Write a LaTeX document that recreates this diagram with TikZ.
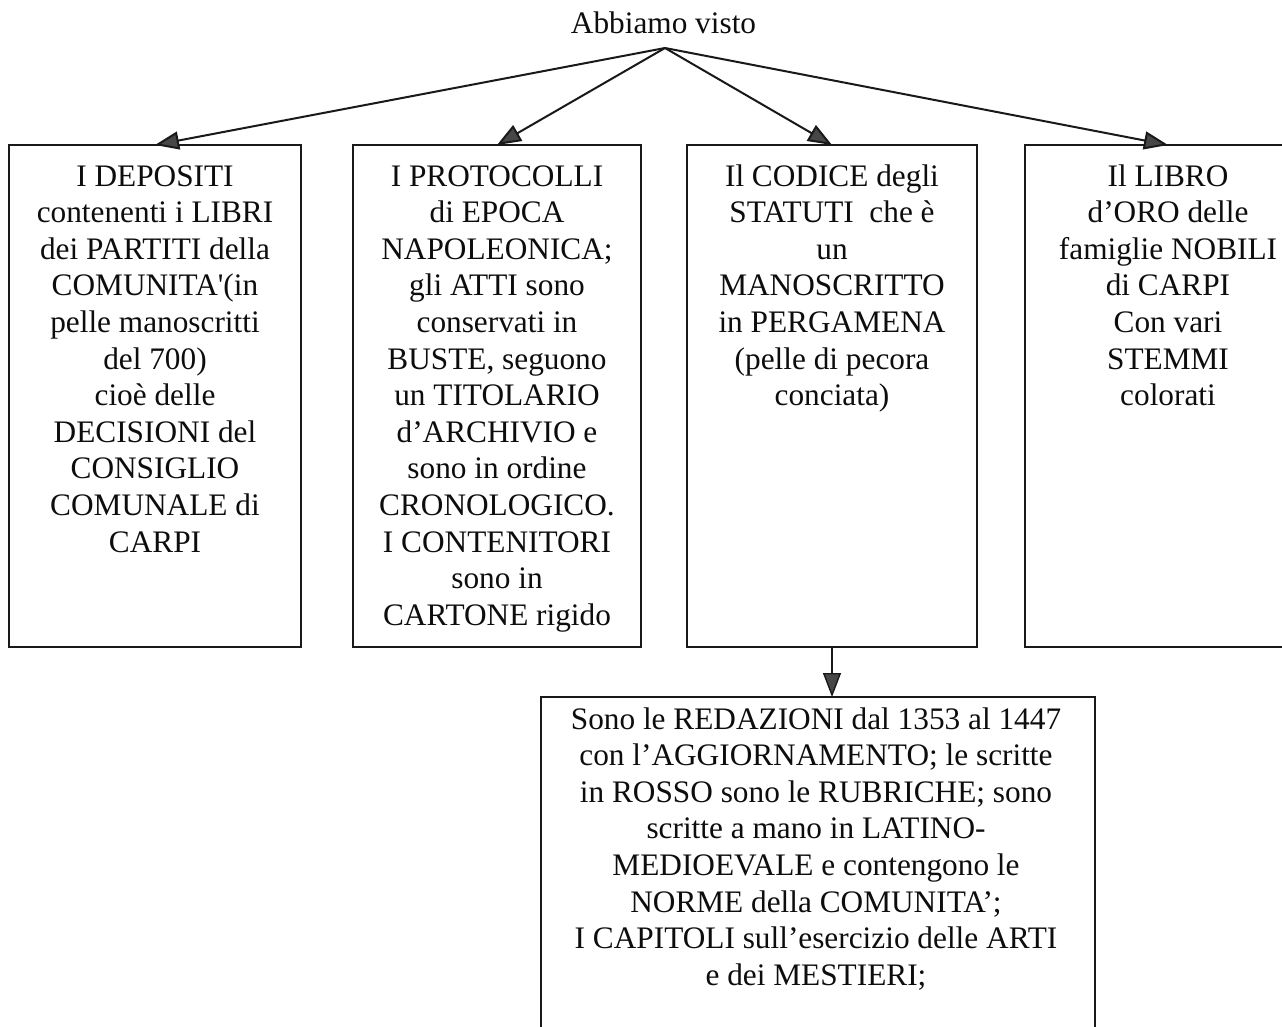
\documentclass[tikz,border=0pt]{standalone}
\usepackage{fontspec}
\setmainfont{Liberation Serif}[Ligatures=TeXOff]
\usetikzlibrary{arrows.meta}
\newcommand{\lines}[1]{\begin{tabular}[t]{@{}c@{}}#1\end{tabular}}
\begin{document}
\begin{tikzpicture}[x=1pt,y=-1pt,
  boxnode/.style={draw=black!90,line width=2pt,inner sep=0pt,outer sep=0pt,anchor=north west},
  txt/.style={inner sep=0pt,anchor=base,text=black!95,font=\fontsize{31.3}{36.6}\selectfont},
  arr/.style={draw=black!90,line width=2pt,-{Triangle[length=24pt,width=18pt,fill=black!72]}},
  arrv/.style={draw=black!90,line width=1.4pt,-{Triangle[length=24pt,width=18pt,fill=black!72]}}]
\useasboundingbox (0,0) rectangle (1282,1026);
\clip (0,0) rectangle (1282,1026);
\fill[white] (0,0) rectangle (1282,1026);
% title and apex
\node[txt] (T) at (663.5,33) {Abbiamo visto};
\coordinate (A) at (665,48);
% boxes
\node[boxnode,minimum width=292pt,minimum height=502pt] (b1) at (9,145) {};
\node[boxnode,minimum width=288pt,minimum height=502pt] (b2) at (353,145) {};
\node[boxnode,minimum width=290pt,minimum height=502pt] (b3) at (687,145) {};
\node[boxnode,minimum width=286pt,minimum height=502pt] (b4) at (1025,145) {};
\node[boxnode,minimum width=554pt,minimum height=420pt] (b5) at (541,697) {};
% texts
\node[txt] (t1) at ([yshift=-41pt]b1.north) {\lines{I DEPOSITI\\contenenti i LIBRI\\dei PARTITI della\\COMUNITA'(in\\pelle manoscritti\\del 700)\\cioè delle\\DECISIONI del\\CONSIGLIO\\COMUNALE di\\CARPI}};
\node[txt] (t2) at ([yshift=-41pt]b2.north) {\lines{I PROTOCOLLI\\di EPOCA\\NAPOLEONICA;\\gli ATTI sono\\conservati in\\BUSTE, seguono\\un TITOLARIO\\d’ARCHIVIO e\\sono in ordine\\CRONOLOGICO.\\I CONTENITORI\\sono in\\CARTONE rigido}};
\node[txt] (t3) at ([yshift=-41pt]b3.north) {\lines{Il CODICE degli\\STATUTI~\ che è\\un\\MANOSCRITTO\\in PERGAMENA\\(pelle di pecora\\conciata)}};
\node[txt] (t4) at ([yshift=-41pt]b4.north) {\lines{Il LIBRO\\d’ORO delle\\famiglie NOBILI\\di CARPI\\Con vari\\STEMMI\\colorati}};
\node[txt] (t5) at ([xshift=-2pt,yshift=-32pt]b5.north) {\lines{Sono le REDAZIONI dal 1353 al 1447\\con l’AGGIORNAMENTO; le scritte\\in ROSSO sono le RUBRICHE; sono\\scritte a mano in LATINO-\\MEDIOEVALE e contengono le\\NORME della COMUNITA’;\\I CAPITOLI sull’esercizio delle ARTI\\e dei MESTIERI;}};
% connectors
\draw[arr] (A) -- (b1.north);
\draw[arr] (A) -- (b2.north);
\draw[arr] (A) -- (b3.north);
\draw[arr] (A) -- (b4.north);
\draw[arrv] (b3.south) -- (b3.south |- b5.north);
\end{tikzpicture}
\end{document}
